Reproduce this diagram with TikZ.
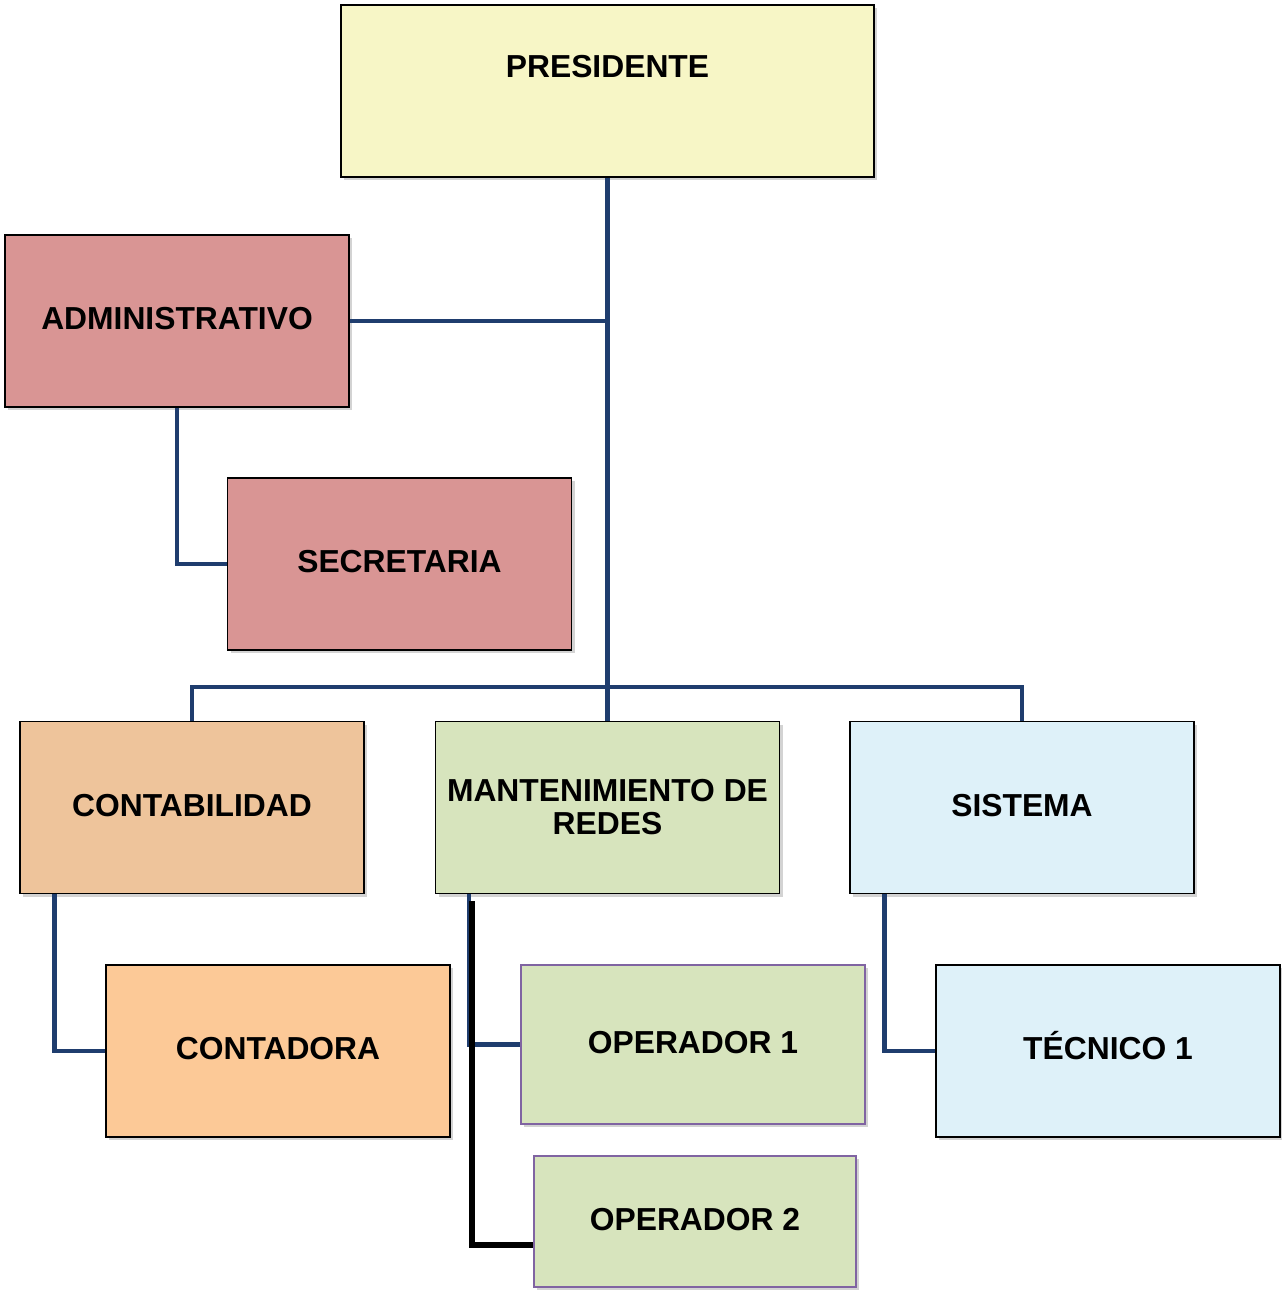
\documentclass[tikz,border=0pt]{standalone}
\usepackage{fontspec}
\setmainfont{Liberation Sans}
\usepackage{xcolor}
\usetikzlibrary{positioning,calc,shadows}
\definecolor{presfill}{RGB}{247,246,198}
\definecolor{adminfill}{RGB}{217,149,148}
\definecolor{contafill}{RGB}{238,196,155}
\definecolor{contadfill}{RGB}{252,201,151}
\definecolor{mantfill}{RGB}{215,228,189}
\definecolor{sistfill}{RGB}{222,241,249}
\definecolor{opborder}{RGB}{128,100,162}
\definecolor{linkblue}{RGB}{31,61,110}
\tikzset{
  unitbox/.style ={draw=black,line width=0.6pt,align=center,
                   font=\fontsize{15.9}{16.5}\selectfont\bfseries,
                   minimum width=172pt,minimum height=86pt,inner sep=2pt,
                   text height=11.5pt,text depth=3pt,
                   drop shadow={shadow xshift=1.6pt,shadow yshift=-1.6pt,opacity=0.35}},
  opbox/.style   ={unitbox,draw=opborder},
  link/.style    ={draw=linkblue,line width=2.1pt},
  thicklink/.style={draw=black,line width=3pt},
}

\begin{document}
\begin{tikzpicture}[x=0.5pt,y=-0.5pt]
\useasboundingbox (0,0) rectangle (1281,1290);

% --- top ---------------------------------------------------------------------
\node[unitbox,fill=presfill,minimum width=266.5pt,
      text height=11pt,text depth=25pt] (pres) at (607.5,91) {PRESIDENTE};

% --- administration ----------------------------------------------------------
\node[unitbox,fill=adminfill] (admin) at (177,321) {ADMINISTRATIVO};
\node[unitbox,fill=adminfill] (secr)  at (399.5,564) {SECRETARIA};

% --- departments -------------------------------------------------------------
\node[unitbox,fill=contafill] (conta) at (192,807.5) {CONTABILIDAD};
\node[unitbox,fill=mantfill,text height=,text depth=] (mant) at (607.5,807.5)
  {MANTENIMIENTO DE\\REDES};
\node[unitbox,fill=sistfill]  (sist)  at (1022,807.5) {SISTEMA};

% --- staff -------------------------------------------------------------------
\node[unitbox,fill=contadfill] (contad) at (278,1051) {CONTADORA};
\node[opbox,fill=mantfill,minimum height=79.5pt] (op1) at (693,1044.5) {OPERADOR 1};
\node[opbox,fill=mantfill,minimum width=161pt,minimum height=65.5pt] (op2) at (695,1221.5) {OPERADOR 2};
\node[unitbox,fill=sistfill] (tec) at (1108,1051) {TÉCNICO 1};

% --- connectors --------------------------------------------------------------
\coordinate (bus) at (607.5,687);
\draw[link] (pres.south) -- (mant.north);
\draw[link] (admin.east) -- (admin.east -| pres.south);
\draw[link] (admin.south) |- (secr.west);
\draw[link] (conta.north) |- (bus) -| (sist.north);
\draw[link] ([xshift=17.5pt]conta.south west) |- (contad.west);
\draw[link] ([xshift=17pt]mant.south west) |- (op1.west);
\draw[thicklink] ([xshift=18.5pt,yshift=-3.5pt]mant.south west)
  |- ([yshift=-11.75pt]op2.west);
\draw[link] ([xshift=17.5pt]sist.south west) |- (tec.west);

\end{tikzpicture}
\end{document}
